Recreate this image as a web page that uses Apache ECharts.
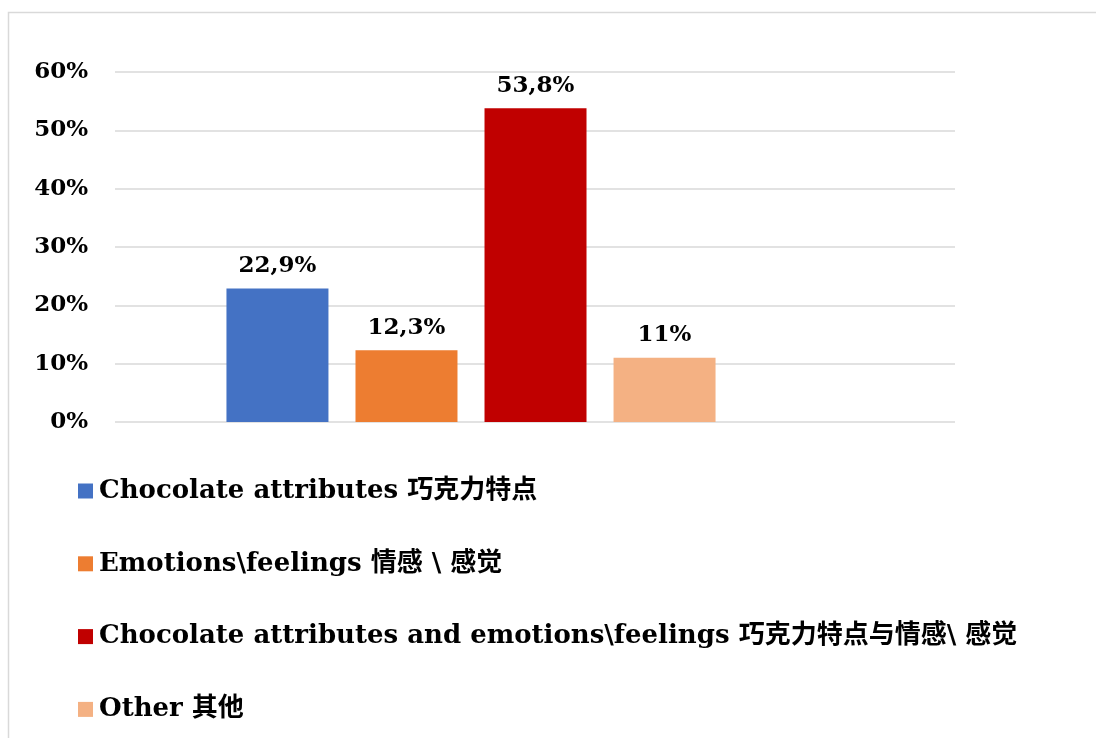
<!DOCTYPE html>
<html>
<head>
<meta charset="utf-8">
<script src="https://cdn.jsdelivr.net/npm/echarts@6/dist/echarts.min.js"></script>
<style>
html,body{margin:0;padding:0;background:#fff;}
#chart{width:1096px;height:738px;}
</style>
</head>
<body>
<div id="chart"></div>
<script>
var seriesNames = [
  'Chocolate attributes 巧克力特点',
  'Emotions\\feelings 情感 \\ 感觉',
  'Chocolate attributes and emotions\\feelings 巧克力特点与情感\\ 感觉',
  'Other 其他'
];
var seriesValues = [22.9, 12.3, 53.8, 11];
var seriesColors = ['#4472C4', '#ED7D31', '#C00000', '#F4B183'];
var yTicks = [0, 10, 20, 30, 40, 50, 60];

var FONT = '"DejaVu Serif", "Noto Sans CJK SC", serif';

var chart = echarts.init(document.getElementById('chart'));

var series = seriesNames.map(function (name, i) {
  return {
    name: name,
    type: 'bar',
    xAxisIndex: 1,
    yAxisIndex: 1,
    data: [seriesValues[i]],
    barWidth: 102,
    barGap: '26.5%',
    itemStyle: { color: seriesColors[i] },
    label: {
      show: true,
      position: 'top',
      distance: 11,
      fontFamily: FONT,
      fontWeight: 'bold',
      fontSize: 23,
      color: '#000',
      formatter: function (p) { return String(p.value).replace('.', ',') + '%'; }
    }
  };
});

var option = {
  animation: false,
  backgroundColor: '#fff',
  graphic: [{
    type: 'rect',
    shape: { x: 8.5, y: 12.5, width: 1200, height: 900 },
    style: { fill: 'none', stroke: '#d9d9d9', lineWidth: 1.5 },
    silent: true,
    z: -10
  }],
  grid: [
    { left: 115, right: 141, top: 72, bottom: 316 },
    { left: 115, width: 712, top: 72, bottom: 316 }
  ],
  xAxis: [
    { gridIndex: 0, type: 'category', data: [''], show: false },
    { gridIndex: 1, type: 'category', data: [''], show: false }
  ],
  yAxis: [
    {
      gridIndex: 0, type: 'value', min: yTicks[0], max: yTicks[yTicks.length - 1], interval: 10,
      axisLine: { show: false }, axisTick: { show: false },
      splitLine: { lineStyle: { color: '#d9d9d9', width: 1.5 } },
      axisLabel: {
        margin: 27, color: '#000', fontFamily: FONT, fontWeight: 'bold', fontSize: 23,
        formatter: function (v) { return v + '%'; }
      }
    },
    {
      gridIndex: 1, type: 'value', min: yTicks[0], max: yTicks[yTicks.length - 1], interval: 10,
      show: false, splitLine: { show: false }
    }
  ],
  legend: {
    orient: 'vertical',
    left: 78,
    top: 478,
    padding: 0,
    itemWidth: 15,
    itemHeight: 15,
    itemGap: 46.8,
    icon: 'rect',
    data: seriesNames,
    textStyle: { fontFamily: FONT, fontWeight: 'bold', fontSize: 26, color: '#000', padding: [0, 0, 0, 1] }
  },
  series: series
};
chart.setOption(option);
</script>
</body>
</html>
